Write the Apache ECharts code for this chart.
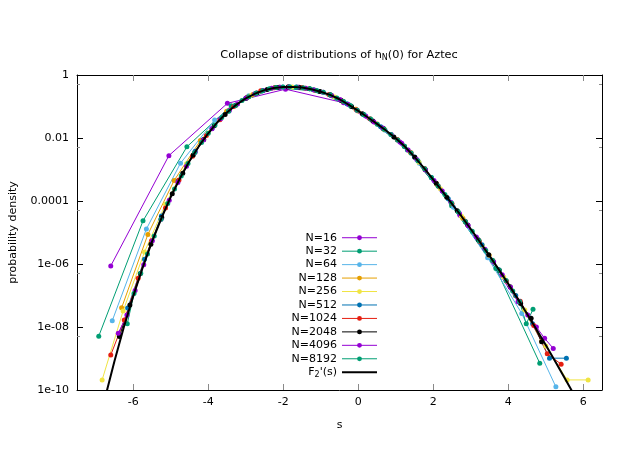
<!DOCTYPE html>
<html><head><meta charset="utf-8">
<script src="https://cdn.jsdelivr.net/npm/echarts@6/dist/echarts.min.js"></script>
<style>html,body{margin:0;padding:0;background:#fff}#c{width:623px;height:467px}</style>
</head><body><div id="c"></div>
<script>
// ---- data (s, log10 of probability density) ----
const xTicks = [-6, -4, -2, 0, 2, 4, 6];
const yTickLabels = ['1e-10', '1e-08', '1e-06', '0.0001', '0.01', '1'];
const seriesNames = ['N=16','N=32','N=64','N=128','N=256','N=512','N=1024','N=2048','N=4096','N=8192',"F2'(s)"];

const n16S = [-6.60,-5.05,-3.49,-1.94,-0.39,1.16,2.71,4.26];
const n16L = [-6.06,-2.56,-0.90,-0.45,-0.88,-2.17,-4.45,-7.2];

const n32S = [-6.92,-5.74,-4.57,-3.39,-2.22,-1.04,0.14,1.31,2.49,3.67,4.84];
const n32L = [-8.29,-4.63,-2.28,-0.98,-0.40,-0.52,-1.25,-2.38,-4.15,-6.14,-9.15];

const n64S = [-6.56,-5.65,-4.74,-3.83,-2.92,-2.01,-1.10,-0.19,0.72,1.63,2.54,3.45,4.36,5.27];
const n64L = [-7.8,-4.89,-2.80,-1.43,-0.66,-0.38,-0.50,-0.99,-1.75,-2.80,-4.20,-5.80,-7.57,-9.9];

const n128S = [-6.31,-5.61,-4.91,-4.21,-3.51,-2.81,-2.11,-1.41,-0.71,-0.01,0.69,1.39,2.09,2.79,3.49,4.19,4.89];
const n128L = [-7.39,-5.06,-3.35,-2.08,-1.15,-0.62,-0.39,-0.42,-0.65,-1.14,-1.72,-2.45,-3.46,-4.55,-5.72,-7.0,-8.45];

const n256S = [-6.83,-6.27,-5.70,-5.14,-4.58,-4.01,-3.45,-2.89,-2.32,-1.76,-1.20,-0.63,-0.07,0.50,1.06,1.62,2.19,2.75,3.31,3.88,4.44,5.00,5.57,6.13];
const n256L = [-9.68,-7.49,-5.62,-4.10,-2.82,-1.84,-1.12,-0.67,-0.43,-0.377,-0.465,-0.70,-1.08,-1.55,-2.07,-2.77,-3.61,-4.48,-5.41,-6.41,-7.46,-8.6,-9.68,-9.68];

const n512S = [-6.15,-5.70,-5.25,-4.80,-4.35,-3.90,-3.45,-3.00,-2.55,-2.10,-1.65,-1.20,-0.75,-0.30,0.15,0.60,1.05,1.50,1.95,2.40,2.85,3.30,3.75,4.20,4.65,5.10,5.55];
const n512L = [-7.4,-5.85,-4.48,-3.35,-2.42,-1.70,-1.14,-0.74,-0.50,-0.39,-0.38,-0.465,-0.63,-0.91,-1.26,-1.64,-2.06,-2.60,-3.25,-3.93,-4.64,-5.39,-6.18,-7.0,-7.9,-8.99,-8.99];

const n1024S = [-6.60,-6.24,-5.87,-5.51,-5.14,-4.78,-4.42,-4.05,-3.69,-3.32,-2.96,-2.60,-2.23,-1.87,-1.50,-1.14,-0.78,-0.41,-0.05,0.31,0.68,1.04,1.41,1.77,2.13,2.50,2.86,3.23,3.59,3.95,4.32,4.68,5.04,5.41];
const n1024L = [-8.89,-7.78,-6.45,-5.26,-4.22,-3.33,-2.58,-1.92,-1.42,-1.00,-0.71,-0.50,-0.405,-0.378,-0.40,-0.49,-0.62,-0.83,-1.10,-1.39,-1.71,-2.05,-2.48,-2.97,-3.52,-4.09,-4.66,-5.28,-5.90,-6.54,-7.18,-7.95,-8.85,-9.18];

const n2048S = [-6.37,-6.09,-5.81,-5.53,-5.24,-4.96,-4.68,-4.40,-4.12,-3.84,-3.55,-3.27,-2.99,-2.71,-2.43,-2.15,-1.87,-1.58,-1.30,-1.02,-0.74,-0.46,-0.18,0.11,0.39,0.67,0.95,1.23,1.51,1.79,2.08,2.36,2.64,2.92,3.20,3.48,3.76,4.05,4.33,4.61,4.89];
const n2048L = [-8.3,-7.3,-6.3,-5.37,-4.52,-3.77,-3.12,-2.54,-2.05,-1.61,-1.25,-0.96,-0.735,-0.57,-0.46,-0.40,-0.378,-0.39,-0.44,-0.52,-0.635,-0.80,-1.00,-1.23,-1.46,-1.70,-1.97,-2.26,-2.61,-3.01,-3.44,-3.88,-4.31,-4.76,-5.23,-5.71,-6.20,-6.72,-7.25,-7.72,-8.47];

const n4096S = [-6.40,-6.17,-5.95,-5.72,-5.49,-5.26,-5.04,-4.81,-4.58,-4.35,-4.13,-3.90,-3.67,-3.44,-3.22,-2.99,-2.76,-2.53,-2.31,-2.08,-1.85,-1.62,-1.40,-1.17,-0.94,-0.71,-0.49,-0.26,-0.03,0.20,0.42,0.65,0.88,1.11,1.33,1.56,1.79,2.02,2.24,2.47,2.70,2.93,3.15,3.38,3.61,3.84,4.06,4.29,4.52,4.75,4.97,5.20];
const n4096L = [-8.2,-7.62,-6.84,-6.02,-5.26,-4.58,-3.98,-3.41,-2.90,-2.45,-2.06,-1.71,-1.39,-1.13,-0.92,-0.734,-0.596,-0.49,-0.42,-0.39,-0.378,-0.388,-0.42,-0.475,-0.55,-0.65,-0.78,-0.94,-1.12,-1.30,-1.49,-1.68,-1.89,-2.13,-2.38,-2.68,-3.01,-3.35,-3.68,-4.04,-4.40,-4.78,-5.14,-5.53,-5.93,-6.34,-6.74,-7.18,-7.62,-8.0,-8.36,-8.68];

const n8192S = [-6.16,-5.98,-5.80,-5.62,-5.44,-5.26,-5.08,-4.90,-4.72,-4.54,-4.36,-4.18,-4.00,-3.82,-3.64,-3.46,-3.28,-3.10,-2.92,-2.73,-2.55,-2.37,-2.19,-2.01,-1.83,-1.65,-1.47,-1.29,-1.11,-0.93,-0.75,-0.57,-0.39,-0.21,-0.03,0.15,0.33,0.51,0.69,0.87,1.05,1.23,1.41,1.59,1.77,1.95,2.13,2.31,2.49,2.67,2.86,3.04,3.22,3.40,3.58,3.76,3.94,4.12,4.30,4.48,4.66];
const n8192L = [-7.9,-6.94,-6.29,-5.68,-5.11,-4.58,-4.08,-3.62,-3.21,-2.81,-2.46,-2.14,-1.85,-1.59,-1.35,-1.15,-0.97,-0.81,-0.69,-0.58,-0.50,-0.44,-0.40,-0.381,-0.376,-0.385,-0.405,-0.44,-0.49,-0.55,-0.63,-0.73,-0.84,-0.97,-1.12,-1.26,-1.40,-1.56,-1.72,-1.89,-2.06,-2.26,-2.48,-2.72,-2.98,-3.25,-3.52,-3.79,-4.07,-4.35,-4.66,-4.96,-5.26,-5.57,-5.88,-6.20,-6.52,-6.86,-7.19,-7.9,-7.44];

const f2S = [-7.0,-6.75,-6.5,-6.25,-6.0,-5.75,-5.5,-5.25,-5.0,-4.75,-4.5,-4.25,-4.0,-3.75,-3.5,-3.25,-3.0,-2.75,-2.5,-2.25,-2.0,-1.75,-1.5,-1.25,-1.0,-0.75,-0.5,-0.25,0.0,0.25,0.5,0.75,1.0,1.25,1.5,1.75,2.0,2.25,2.5,2.75,3.0,3.25,3.5,3.75,4.0,4.25,4.5,4.75,5.0,5.25,5.5,5.75,6.0];
const f2L = [-11.49,-10.24,-9.08,-8.00,-7.02,-6.12,-5.29,-4.55,-3.87,-3.27,-2.73,-2.26,-1.85,-1.49,-1.19,-0.94,-0.74,-0.59,-0.48,-0.41,-0.38,-0.377,-0.40,-0.45,-0.53,-0.63,-0.77,-0.95,-1.14,-1.34,-1.55,-1.77,-2.01,-2.28,-2.60,-2.95,-3.32,-3.70,-4.09,-4.48,-4.89,-5.31,-5.74,-6.18,-6.63,-7.10,-7.58,-8.07,-8.57,-9.09,-9.61,-10.14,-10.69];

const seriesColors = ['#9400d3','#009e73','#56b4e9','#e69f00','#f0e442','#0072b2','#e51e10','#000000','#9400d3','#009e73','#000000'];

// ---- build ----
const FONT = 'DejaVu Sans';
const pts = (S, L) => S.map((s, i) => [s, Math.pow(10, L[i])]);
const pairs = [[n16S,n16L],[n32S,n32L],[n64S,n64L],[n128S,n128L],[n256S,n256L],[n512S,n512L],[n1024S,n1024L],[n2048S,n2048L],[n4096S,n4096L],[n8192S,n8192L]];

const series = pairs.map((p, i) => ({
  name: seriesNames[i], type: 'line', data: pts(p[0], p[1]),
  symbol: 'circle', symbolSize: 5, showSymbol: true, showAllSymbol: true,
  lineStyle: { width: 1, color: seriesColors[i] }, itemStyle: { color: seriesColors[i] },
  emphasis: { disabled: true }, clip: true, z: 2
}));
series.push({
  name: seriesNames[10], type: 'line', data: pts(f2S, f2L),
  symbol: 'none', showSymbol: false,
  lineStyle: { width: 2, color: '#000' }, itemStyle: { color: '#000' },
  emphasis: { disabled: true }, clip: true, z: 3
});

const yFmt = v => yTickLabels[Math.round((Math.round(Math.log10(v)) + 10) / 2)];
const tickGray = '#8a8a8a';

const legendData = seriesNames.map((n, i) => i === 10
  ? { name: n, itemStyle: { color: 'rgba(0,0,0,0)', borderWidth: 0 }, lineStyle: { color: '#000', width: 2 } }
  : { name: n, lineStyle: { width: 1 } });

const option = {
  animation: false,
  backgroundColor: '#fff',
  textStyle: { fontFamily: FONT },
  title: {
    text: '{t|Collapse of distributions of h}{s|N}{t|(0) for Aztec}',
    left: 339, top: 48, textAlign: 'center', padding: 0,
    textStyle: { fontWeight: 'normal', rich: {
      t: { fontFamily: FONT, fontSize: 11.3, fontWeight: 'normal', color: '#000' },
      s: { fontFamily: FONT, fontSize: 8, fontWeight: 'normal', color: '#000', padding: [6, 0, 0, 0] }
    } }
  },
  grid: { left: 77, top: 75, right: 21, bottom: 77, outerBoundsMode: 'none' },
  xAxis: [{
    type: 'value', min: -7.5, max: 6.5, position: 'bottom',
    axisLine: { onZero: false, lineStyle: { color: '#000', width: 1 } },
    axisTick: { inside: true, length: 6, customValues: xTicks, lineStyle: { color: tickGray } },
    axisLabel: { customValues: xTicks, margin: 7, color: '#000', fontFamily: FONT, fontSize: 11, formatter: v => String(v) },
    splitLine: { show: false },
    name: 's', nameLocation: 'middle', nameGap: 30,
    nameTextStyle: { color: '#000', fontFamily: FONT, fontSize: 11 }
  }, {
    type: 'value', min: -7.5, max: 6.5, position: 'top',
    axisLine: { onZero: false, lineStyle: { color: '#000', width: 1 } },
    axisTick: { inside: true, length: 6, customValues: xTicks, lineStyle: { color: tickGray } },
    axisLabel: { show: false }, splitLine: { show: false }
  }],
  yAxis: [{
    type: 'log', logBase: 10, min: 1e-10, max: 1, interval: 2, position: 'left',
    axisLine: { show: true, onZero: false, lineStyle: { color: '#000', width: 1 } },
    axisTick: { show: true, inside: true, length: 6, lineStyle: { color: '#000' } },
    minorTick: { show: true, splitNumber: 2, length: 3, lineStyle: { color: tickGray } },
    axisLabel: { margin: 8, color: '#000', fontFamily: FONT, fontSize: 11, formatter: yFmt },
    splitLine: { show: false }, minorSplitLine: { show: false },
    name: 'probability density', nameLocation: 'middle', nameGap: 58, nameRotate: 90,
    nameTextStyle: { color: '#000', fontFamily: FONT, fontSize: 11 }
  }, {
    type: 'log', logBase: 10, min: 1e-10, max: 1, interval: 2, position: 'right',
    axisLine: { show: true, onZero: false, lineStyle: { color: '#000', width: 1 } },
    axisTick: { show: true, inside: true, length: 6, lineStyle: { color: '#000' } },
    minorTick: { show: true, splitNumber: 2, length: 3, lineStyle: { color: tickGray } },
    axisLabel: { show: false }, splitLine: { show: false }, minorSplitLine: { show: false }
  }],
  legend: {
    orient: 'vertical', right: 245, top: 231, align: 'right', padding: 0,
    itemWidth: 35, itemHeight: 6, itemGap: 0, selectedMode: false,
    textStyle: {
      fontFamily: FONT, fontSize: 11, color: '#000', lineHeight: 13.45,
      rich: {
        a: { fontFamily: FONT, fontSize: 11, color: '#000', lineHeight: 13.45 },
        b: { fontFamily: FONT, fontSize: 8, color: '#000', padding: [5, 0, 0, 0] }
      }
    },
    formatter: n => n === seriesNames[10] ? "{a|F}{b|2}{a|'(s)}" : n,
    data: legendData
  },
  series: series
};

const chart = echarts.init(document.getElementById('c'), null, { renderer: 'canvas' });
chart.setOption(option);
</script></body></html>
